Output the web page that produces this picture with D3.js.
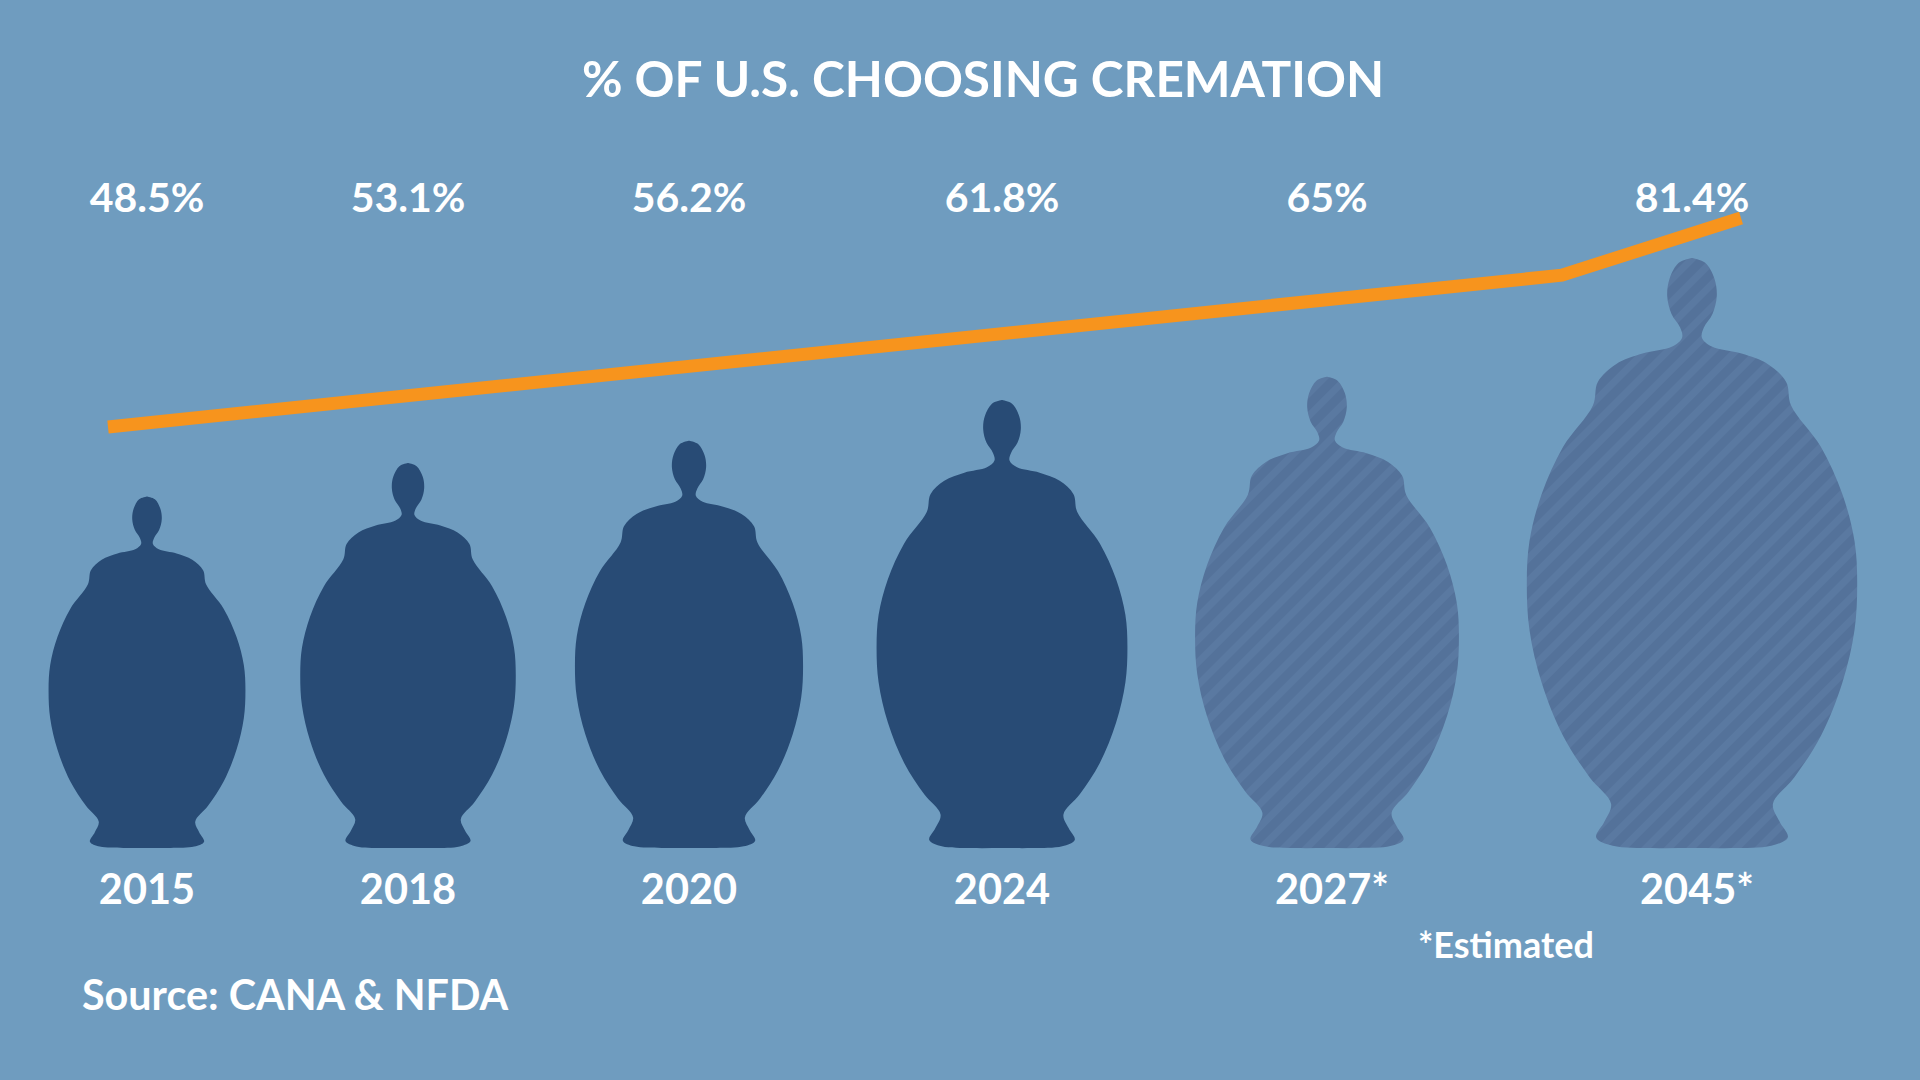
<!DOCTYPE html>
<html><head><meta charset="utf-8">
<script src="https://cdn.jsdelivr.net/npm/d3@7"></script>
<style>html,body{margin:0;padding:0;background:#6f9cbf;}svg{display:block;font-family:Lato,"Open Sans",sans-serif;}</style>
</head><body>
<svg id="c" width="1920" height="1080"></svg>
<script>
const years = ["2015","2018","2020","2024","2027*","2045*"];
const values = [48.5, 53.1, 56.2, 61.8, 65, 81.4];
const valueLabels = ["48.5%","53.1%","56.2%","61.8%","65%","81.4%"];
const estimated = [false,false,false,false,true,true];
const lineYears = [2015, 2042.6, 2046];
const lineValues = [48.5, 72.4, 81.4];

const svg = d3.select("#c");
svg.append("rect").attr("width",1920).attr("height",1080).attr("fill","#6f9cbf");
const defs = svg.append("defs");
const pat = defs.append("pattern").attr("id","hatch").attr("patternUnits","userSpaceOnUse")
  .attr("width",16).attr("height",16).attr("patternTransform","rotate(45)");
pat.append("rect").attr("width",16).attr("height",16).attr("fill","#54729a");
pat.append("rect").attr("width",7).attr("height",16).attr("fill","#5a79a1");

const x = d3.scaleOrdinal().domain(years).range([147,408,689,1002,1327,1692]);
const h = d3.scaleLinear().domain([0,81.4]).range([0,590]);
const baseY = 848;

// urn template (right side), unit coords
const side = [[0,0],[0.04,0.008],[0.068,0.035],[0.075,0.065],[0.062,0.095],[0.036,0.118],[0.03,0.135],[0.06,0.15],[0.15,0.162],[0.23,0.18],[0.285,0.21],[0.30,0.25],[0.39,0.32],[0.455,0.4],[0.492,0.48],[0.5,0.55],[0.492,0.63],[0.455,0.72],[0.39,0.81],[0.31,0.88],[0.245,0.925],[0.265,0.955],[0.29,0.982],[0.24,0.996],[0.12,1],[0,1]];
function urnPath(cx, H){
  const W = H*0.56, top = baseY - H;
  const right = side.map(p=>[cx+p[0]*W, top+p[1]*H]);
  const left = side.slice().reverse().map(p=>[cx-p[0]*W, top+p[1]*H]);
  return d3.line().curve(d3.curveCatmullRom.alpha(0.5))(right.concat(left.slice(1)));
}
years.forEach((y,i)=>{
  svg.append("path").attr("d",urnPath(x(y),h(values[i])))
    .attr("fill",estimated[i]?"url(#hatch)":"#284b75");
});

const lx = d3.scaleLinear().domain([2015,2046]).range([108,1741]);
const ly = d3.scaleLinear().domain([48.5,81.4]).range([427,218]);
svg.append("path").datum(lineYears.map((d,i)=>[d,lineValues[i]]))
  .attr("d",d3.line().x(d=>lx(d[0])).y(d=>ly(d[1])))
  .attr("fill","none").attr("stroke","#f7941d").attr("stroke-width",13);

svg.append("text").attr("x",983).attr("y",97).attr("text-anchor","middle")
  .attr("fill","#fff").attr("font-weight",700).attr("font-size",49.5).text("% OF U.S. CHOOSING CREMATION");
svg.selectAll(".v").data(years).enter().append("text").attr("x",d=>x(d)).attr("y",212)
  .attr("text-anchor","middle").attr("fill","#fff").attr("font-weight",700).attr("font-size",41)
  .text((d,i)=>valueLabels[i]);
svg.selectAll(".y").data(years).enter().append("text").attr("x",(d,i)=>x(d)+(estimated[i]?5:0)).attr("y",904)
  .attr("text-anchor","middle").attr("fill","#fff").attr("font-weight",700).attr("font-size",41.5).text(d=>d);
svg.append("text").attr("x",1418).attr("y",958).attr("fill","#fff").attr("font-weight",700).attr("font-size",36).text("*Estimated");
svg.append("text").attr("x",82).attr("y",1010).attr("fill","#fff").attr("font-weight",700).attr("font-size",41.3).text("Source: CANA & NFDA");
</script></body></html>
